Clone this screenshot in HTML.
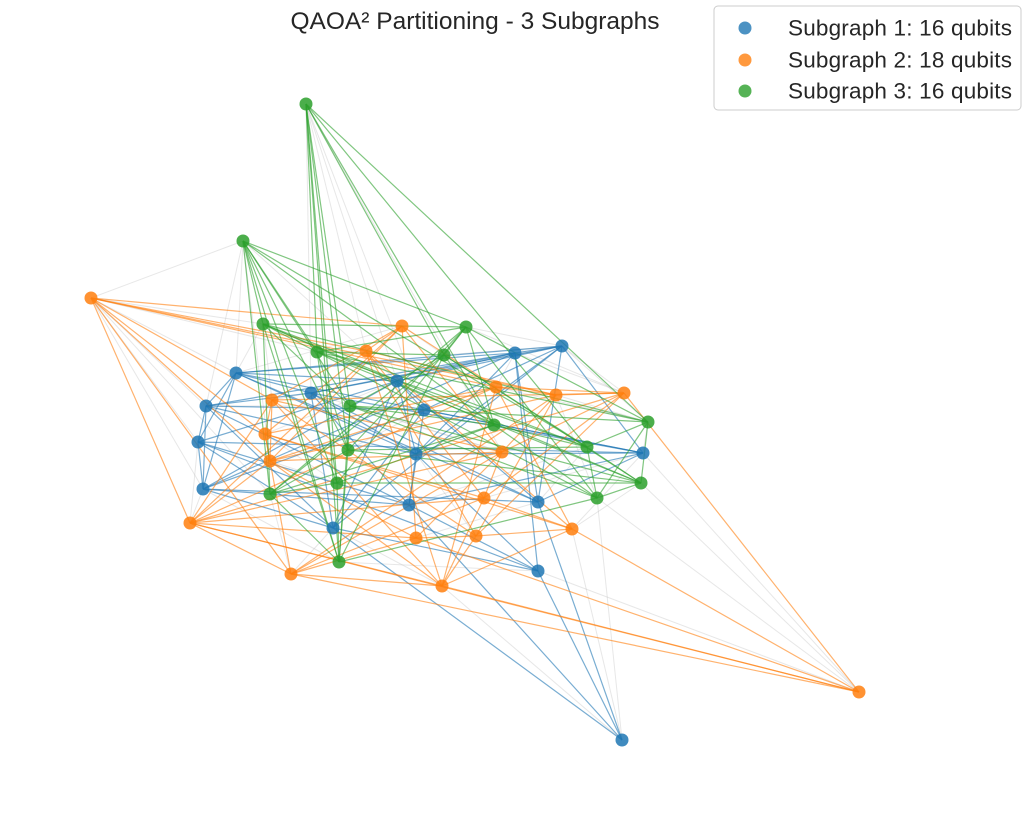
<!DOCTYPE html>
<html><head><meta charset="utf-8"><style>
html,body{margin:0;padding:0;background:#fff;}
svg{display:block;font-family:"Liberation Sans",sans-serif;}
</style></head><body>
<svg id="chart" width="1031" height="817" viewBox="0 0 1031 817">
<text x="475" y="29" text-anchor="middle" font-size="24.5" fill="#262626">QAOA² Partitioning - 3 Subgraphs</text>
<g id="gray"></g><g id="edges"></g><g id="nodes"></g>
<g>
<rect x="714" y="6" width="307" height="104" rx="4" fill="#fff" fill-opacity="0.8" stroke="#ccc"/>
<g><circle cx="745" cy="28" r="6.5" fill="#1f77b4" fill-opacity="0.8"/><text x="788" y="35.5" font-size="22.5" fill="#262626" textLength="224">Subgraph 1: 16 qubits</text></g>
<g><circle cx="745" cy="60" r="6.5" fill="#ff7f0e" fill-opacity="0.8"/><text x="788" y="67.5" font-size="22.5" fill="#262626" textLength="224">Subgraph 2: 18 qubits</text></g>
<g><circle cx="745" cy="91" r="6.5" fill="#2ca02c" fill-opacity="0.8"/><text x="788" y="98.5" font-size="22.5" fill="#262626" textLength="224">Subgraph 3: 16 qubits</text></g>
</g>
</svg>
<script>
const blueNodes=[[562,346],[515,353],[236,373],[397,381],[311,393],[206,406],[424,410],[198,442],[416,454],[643,453],[203,489],[409,505],[538,502],[333,528],[538,571],[622,740]];
const orangeNodes=[[91,298],[402,326],[366,351],[496,387],[624,393],[556,395],[272,400],[265,434],[270,461],[502,452],[484,498],[190,523],[572,529],[416,538],[476,536],[291,574],[442,586],[859,692]];
const greenNodes=[[306,104],[243,241],[263,324],[466,327],[317,352],[444,355],[350,406],[494,425],[348,450],[587,447],[648,422],[641,483],[337,483],[270,494],[597,498],[339,562]];
const blueEdges=[[0,1],[0,3],[0,4],[0,6],[0,9],[0,12],[1,3],[1,2],[1,8],[1,12],[1,14],[2,5],[2,4],[2,7],[2,3],[2,10],[3,6],[3,7],[3,8],[4,5],[4,8],[4,11],[4,13],[5,7],[5,10],[5,6],[6,9],[6,11],[7,10],[7,13],[8,9],[8,11],[10,13],[10,12],[11,14],[11,15],[12,15],[13,15],[13,14],[14,15],[12,9],[7,11],[5,13],[3,12],[1,10],[0,8],[2,8],[9,11],[0,2],[1,5],[2,9],[3,10],[4,12],[5,8],[6,13],[7,9],[8,14],[10,11],[1,4],[3,13],[6,10],[2,12],[5,11],[7,14],[0,13],[4,9]];
const orangeEdges=[[0,1],[0,2],[0,3],[0,6],[0,7],[0,11],[0,15],[0,5],[17,4],[17,11],[17,15],[17,16],[17,12],[17,13],[1,2],[1,3],[1,6],[1,9],[1,13],[2,5],[2,7],[2,10],[2,14],[3,4],[3,5],[3,8],[3,12],[4,5],[4,10],[4,9],[5,9],[5,14],[6,7],[6,8],[6,11],[6,14],[7,8],[7,15],[7,10],[8,11],[8,16],[8,9],[9,10],[9,13],[10,12],[10,16],[11,15],[11,13],[11,16],[12,14],[13,14],[13,15],[14,16],[15,16],[12,16],[11,9],[15,10],[16,6],[1,8],[1,11],[2,12],[3,7],[3,11],[4,6],[4,14],[5,8],[5,15],[6,9],[7,12],[8,13],[9,15],[10,11],[2,16],[3,16],[0,8],[4,11]];
const greenEdges=[[0,4],[0,5],[0,7],[0,9],[0,10],[0,12],[0,15],[0,6],[0,8],[1,2],[1,3],[1,4],[1,6],[1,8],[1,12],[1,13],[1,15],[1,7],[1,9],[2,3],[2,4],[2,6],[2,11],[2,13],[2,15],[3,4],[3,5],[3,7],[3,10],[3,14],[4,5],[4,8],[4,12],[4,9],[5,6],[5,7],[5,11],[5,13],[6,7],[6,8],[6,10],[7,9],[7,14],[7,12],[8,9],[8,13],[8,15],[9,10],[9,11],[9,14],[10,11],[10,14],[11,14],[11,12],[12,13],[12,15],[13,15],[14,15],[6,15],[2,9],[4,11],[2,7],[2,10],[3,8],[3,12],[4,10],[5,9],[5,15],[6,11],[6,14],[7,13],[8,11],[4,14],[3,13]];
const crossEdges=[["g0","b4"],["g0","o2"],["g0","b3"],["g0","o9"],["g1","o0"],["g1","b5"],["g1","o8"],["g1","b3"],["o0","b2"],["o0","b5"],["o0","g2"],["o0","b7"],["o0","g13"],["o17","b9"],["o17","g14"],["o17","b14"],["o17","g11"],["b15","o12"],["b15","g14"],["b15","o16"],["b0","o4"],["b0","g3"],["b0","o6"],["b9","g10"],["b9","o10"],["b2","g2"],["b2","o1"],["b5","g6"],["b7","o11"],["b10","g15"],["b13","o15"],["b11","g9"],["b12","o13"],["b14","g15"],["o4","g3"],["o4","b1"],["o12","g11"],["o1","g5"],["o3","b6"],["o11","b10"],["g2","o6"],["g4","o2"],["g7","b8"],["g12","o8"],["b6","g8"],["o5","g14"],["b1","o3"],["g10","o5"],["o16","b13"],["o15","g13"],["g5","b0"],["o9","b4"],["o0","b10"],["o0","g4"],["g1","b2"],["g0","b6"],["b9","o12"],["b0","g10"],["o7","g12"],["b8","o14"],["g9","b12"],["o3","g10"],["b3","o7"],["g6","o9"]];
const colors={b:"#1f77b4",o:"#ff7f0e",g:"#2ca02c"};
const sets={b:blueNodes,o:orangeNodes,g:greenNodes};
const NS="http://www.w3.org/2000/svg";
const grayG=document.getElementById("gray"),edgeG=document.getElementById("edges"),nodeG=document.getElementById("nodes");
function pt(code){return sets[code[0]][parseInt(code.slice(1))];}
crossEdges.forEach(e=>{const a=pt(e[0]),b=pt(e[1]);const l=document.createElementNS(NS,"line");
l.setAttribute("x1",a[0]);l.setAttribute("y1",a[1]);l.setAttribute("x2",b[0]);l.setAttribute("y2",b[1]);
l.setAttribute("stroke","#bbb");l.setAttribute("stroke-opacity","0.35");l.setAttribute("stroke-width","1");


grayG.appendChild(l);});
[["b",blueEdges],["o",orangeEdges],["g",greenEdges]].forEach(([k,list])=>{list.forEach(e=>{const a=sets[k][e[0]],b=sets[k][e[1]];const l=document.createElementNS(NS,"line");
l.setAttribute("x1",a[0]);l.setAttribute("y1",a[1]);l.setAttribute("x2",b[0]);l.setAttribute("y2",b[1]);
l.setAttribute("stroke",colors[k]);l.setAttribute("stroke-opacity","0.6");l.setAttribute("stroke-width","1.2");


edgeG.appendChild(l);});});
["b","o","g"].forEach(k=>{sets[k].forEach(p=>{const c=document.createElementNS(NS,"circle");
c.setAttribute("cx",p[0]);c.setAttribute("cy",p[1]);c.setAttribute("r","6.5");c.setAttribute("fill",colors[k]);c.setAttribute("fill-opacity","0.85");


nodeG.appendChild(c);});});
</script>
</body></html>
